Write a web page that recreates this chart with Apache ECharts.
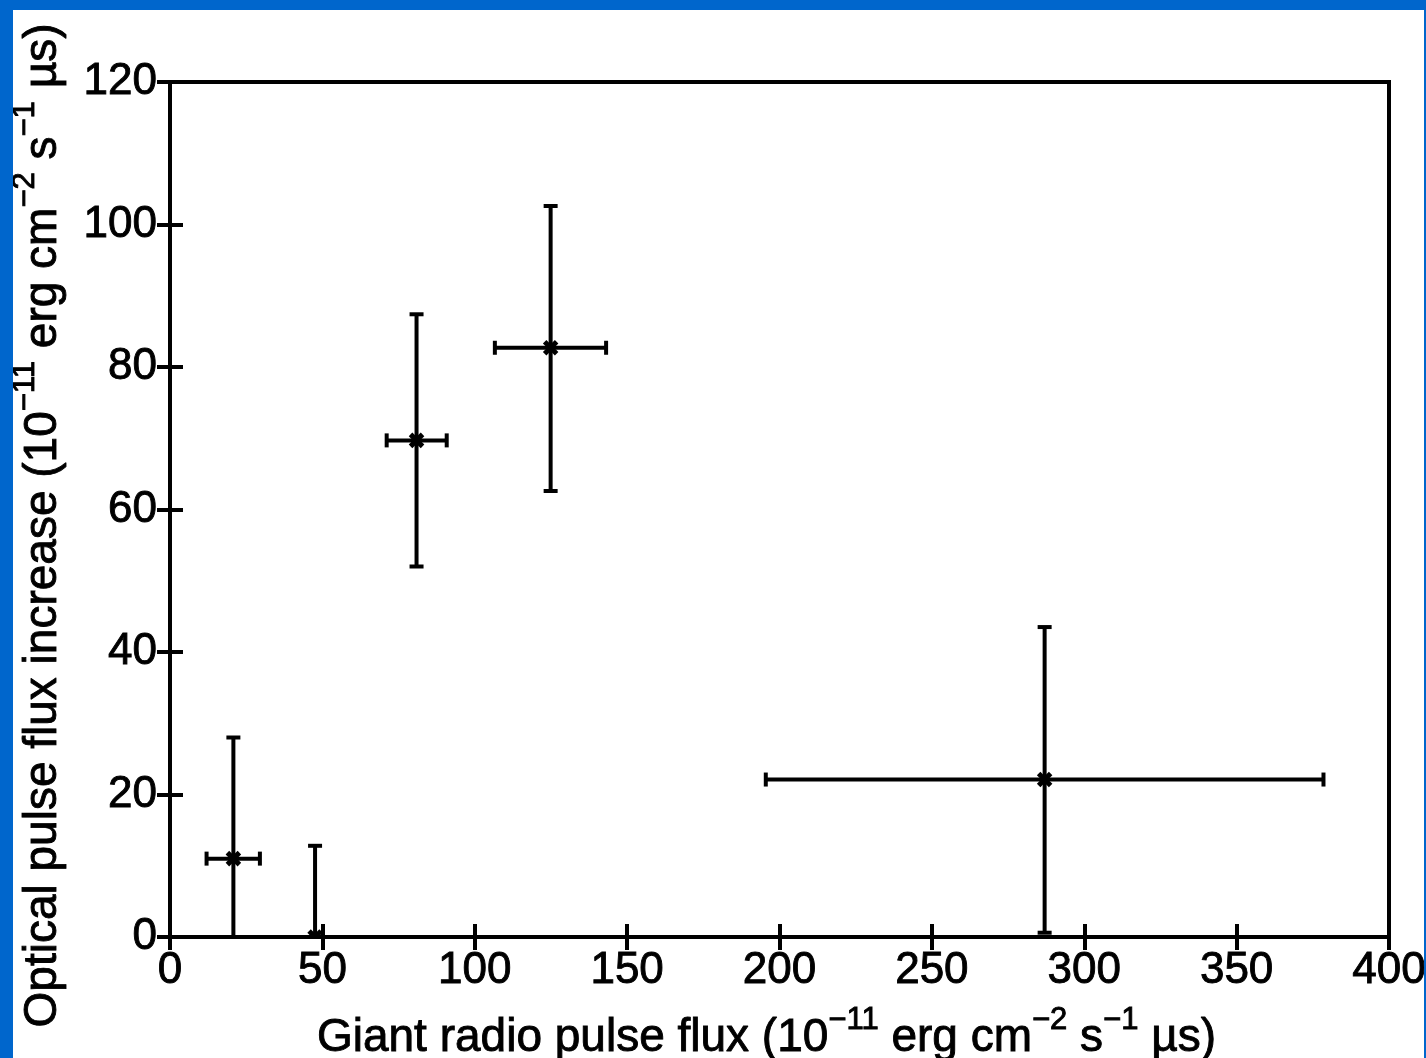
<!DOCTYPE html>
<html>
<head>
<meta charset="utf-8">
<script src="https://cdn.jsdelivr.net/npm/echarts@6/dist/echarts.min.js"></script>
<style>
  html, body { margin: 0; padding: 0; background: #0066cc; }
  #chart { position: absolute; left: 13px; top: 10px; width: 1411px; height: 1048px; background: #fff; }
</style>
</head>
<body>
<div id="chart"></div>
<script>
// measured points: giant radio pulse flux vs optical pulse flux increase
const radioFlux = [20.8, 47.6, 80.9, 124.9, 287.0];
const opticalFlux = [11.0, 0, 69.7, 82.7, 22.1];
const radioLow = [12.0, null, 71.1, 106.6, 195.5];
const radioHigh = [29.5, null, 90.8, 143.1, 378.5];
const opticalLow = [-6, -6, 52.0, 62.6, 0.6];
const opticalHigh = [28.0, 12.8, 87.4, 102.6, 43.5];

const xTicks = [0, 50, 100, 150, 200, 250, 300, 350, 400];
const yTicks = [0, 20, 40, 60, 80, 100, 120];

const chart = echarts.init(document.getElementById("chart"));

const points = radioFlux.map((x, i) => [x, opticalFlux[i], radioLow[i], radioHigh[i], opticalLow[i], opticalHigh[i]]);

const FONT = "Liberation Sans, Arial, sans-serif";
// thin text border makes the glyphs a bit heavier, like the scanned figure
const heavy = { textBorderColor: "#000", textBorderWidth: 0.9 };
const labelFont = Object.assign({ color: "#000", fontSize: 44, fontFamily: FONT }, heavy);
const nameRich = {
  n: Object.assign({ fontSize: 46, color: "#000", fontFamily: FONT, lineHeight: 56, verticalAlign: "bottom" }, heavy),
  s: Object.assign({ fontSize: 31, color: "#000", fontFamily: FONT, lineHeight: 56, verticalAlign: "top" }, heavy),
};

const tickStyle = { show: true, inside: true, length: 13, lineStyle: { color: "#000", width: 4 } };

function renderErrorBar(params, api) {
  const x = api.value(0), y = api.value(1);
  const c = api.coord([x, y]);
  const lw = 4, cap = 7;
  const kids = [];
  const line = (x1, y1, x2, y2, w) => kids.push({
    type: "line", shape: { x1, y1, x2, y2 }, style: { stroke: "#000", lineWidth: w || lw },
  });
  const yl = api.value(4), yh = api.value(5);
  const top = api.coord([x, yh]), bot = api.coord([x, yl]);
  line(c[0], top[1], c[0], bot[1]);
  line(c[0] - cap, top[1], c[0] + cap, top[1]);
  line(c[0] - cap, bot[1], c[0] + cap, bot[1]);
  const xl = api.value(2), xh = api.value(3);
  if (!isNaN(xl) && !isNaN(xh)) {
    const l = api.coord([xl, y]), r = api.coord([xh, y]);
    line(l[0], c[1], r[0], c[1]);
    line(l[0], c[1] - cap, l[0], c[1] + cap);
    line(r[0], c[1] - cap, r[0], c[1] + cap);
  }
  // x marker
  const m = 6;
  line(c[0] - m, c[1] - m, c[0] + m, c[1] + m, 5);
  line(c[0] - m, c[1] + m, c[0] + m, c[1] - m, 5);
  return { type: "group", children: kids };
}

const option = {
  animation: false,
  backgroundColor: "#fff",
  grid: {
    left: 157, top: 72, width: 1219, height: 855,
    outerBoundsMode: "none", containLabel: false,
    show: true, borderColor: "#000", borderWidth: 4, backgroundColor: "transparent",
  },
  xAxis: [
    {
      type: "value", min: 0, max: 400, interval: 50, position: "bottom",
      axisLine: { show: true, lineStyle: { color: "#000", width: 4 } },
      axisTick: tickStyle,
      axisLabel: Object.assign({ margin: 12, formatter: (v) => (xTicks.includes(v) ? String(v) : "") }, labelFont),
      splitLine: { show: false },
      name: "{n|Giant radio pulse flux (10}{s|−11}{n| erg cm}{s|−2}{n| s}{s|−1}{n| µs)}",
      nameLocation: "middle", nameGap: 68,
      nameTextStyle: { rich: nameRich, padding: [0, 26, 0, 0] },
    },
    {
      type: "value", min: 0, max: 400, interval: 50, position: "top",
      axisLine: { show: true, lineStyle: { color: "#000", width: 4 } },
      axisTick: tickStyle, axisLabel: { show: false }, splitLine: { show: false },
    },
  ],
  yAxis: [
    {
      type: "value", min: 0, max: 120, interval: 20, position: "left",
      axisLine: { show: true, lineStyle: { color: "#000", width: 4 } },
      axisTick: tickStyle,
      axisLabel: Object.assign({ margin: 13, formatter: (v) => (yTicks.includes(v) ? String(v) : "") }, labelFont),
      splitLine: { show: false },
      name: "{n|Optical pulse flux increase (10}{s|−11}{n| erg cm}{s|−2}{n| s}{s|−1}{n| µs)}",
      nameLocation: "middle", nameGap: 104, nameRotate: 90,
      nameTextStyle: { rich: nameRich, padding: [0, 32, 0, 0] },
    },
    {
      type: "value", min: 0, max: 120, interval: 20, position: "right",
      axisLine: { show: true, lineStyle: { color: "#000", width: 4 } },
      axisTick: tickStyle, axisLabel: { show: false }, splitLine: { show: false },
    },
  ],
  series: [
    {
      type: "custom",
      xAxisIndex: 0, yAxisIndex: 0,
      clip: true,
      renderItem: renderErrorBar,
      encode: { x: 0, y: 1 },
      data: points,
    },
  ],
};

chart.setOption(option);
</script>
</body>
</html>
